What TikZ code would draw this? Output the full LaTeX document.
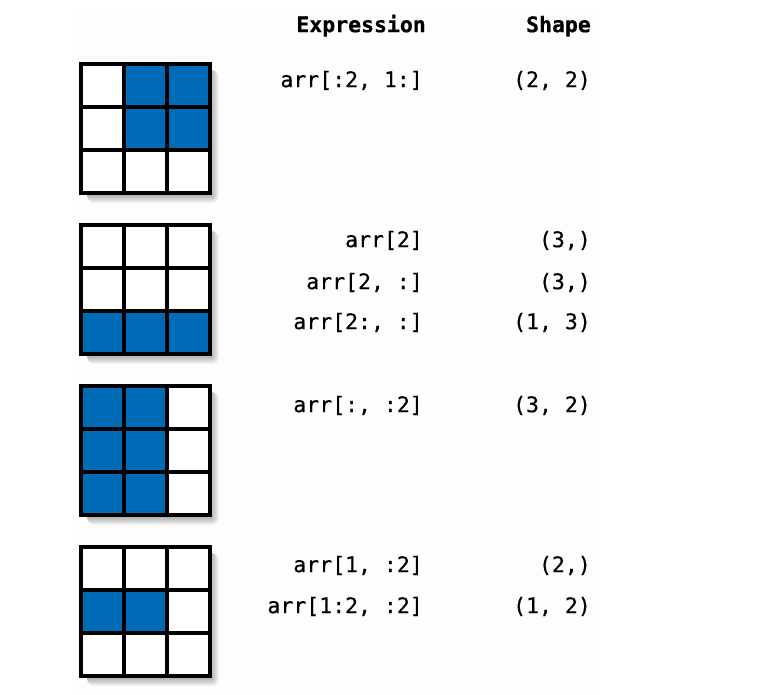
\documentclass[tikz,border=0pt]{standalone}
\usepackage{fontspec}
\setmonofont[FakeBold=0.4]{DejaVu Sans Mono}
\newfontfamily\headfont[FakeBold=0.6]{DejaVu Sans Mono Bold}
\definecolor{cellblue}{RGB}{0,108,183}
\definecolor{panelbg}{RGB}{253,253,253}
\tikzset{
  cell/.style={draw=black, line width=3.5pt, minimum size=43pt, inner sep=0pt, fill=white},
  on/.style={fill=cellblue},
  expr/.style={font=\ttfamily\fontsize{21.5}{24}\selectfont, inner sep=0pt, anchor=mid east},
  head/.style={font=\headfont\fontsize{21.5}{24}\selectfont, inner sep=0pt, anchor=mid east},
}
\newcommand\shadowat[2]{%
  \foreach \k in {0,...,7}{%
    \fill[black, opacity=0.04, rounded corners=\k pt] (#1+6, #2+6) rectangle (#1+131+\k, #2+132+\k);
  }}
\begin{document}
\begin{tikzpicture}[x=1pt,y=-1pt]
\useasboundingbox (0,0) rectangle (768,694);
\fill[panelbg] (72,10) rectangle (593,694);
% shadows
\shadowat{81}{64}
\shadowat{81}{225}
\shadowat{81}{386}
\shadowat{81}{547}
% grid A: arr[:2,1:]
\foreach \r in {0,1,2}{\foreach \c in {0,1,2}{
  \pgfmathtruncatemacro\isOn{(\r<2 && \c>0) ? 1 : 0}
  \ifnum\isOn=1
    \node[cell,on] (a-\r-\c) at (102.5+43*\c, 85.5+43*\r) {};
  \else
    \node[cell] (a-\r-\c) at (102.5+43*\c, 85.5+43*\r) {};
  \fi}}
% grid B: arr[2]
\foreach \r in {0,1,2}{\foreach \c in {0,1,2}{
  \pgfmathtruncatemacro\isOn{(\r==2) ? 1 : 0}
  \ifnum\isOn=1
    \node[cell,on] (b-\r-\c) at (102.5+43*\c, 246.5+43*\r) {};
  \else
    \node[cell] (b-\r-\c) at (102.5+43*\c, 246.5+43*\r) {};
  \fi}}
% grid C: arr[:, :2]
\foreach \r in {0,1,2}{\foreach \c in {0,1,2}{
  \pgfmathtruncatemacro\isOn{(\c<2) ? 1 : 0}
  \ifnum\isOn=1
    \node[cell,on] (c-\r-\c) at (102.5+43*\c, 407.5+43*\r) {};
  \else
    \node[cell] (c-\r-\c) at (102.5+43*\c, 407.5+43*\r) {};
  \fi}}
% grid D: arr[1, :2]
\foreach \r in {0,1,2}{\foreach \c in {0,1,2}{
  \pgfmathtruncatemacro\isOn{(\r==1 && \c<2) ? 1 : 0}
  \ifnum\isOn=1
    \node[cell,on] (d-\r-\c) at (102.5+43*\c, 568.5+43*\r) {};
  \else
    \node[cell] (d-\r-\c) at (102.5+43*\c, 568.5+43*\r) {};
  \fi}}
% headers
\node[head] (hexpr) at (426,30) {Expression};
\node[head] (hshape) at (591,30) {Shape};
% expressions
\node[expr] (e1) at (423,85) {arr[:2, 1:]};
\node[expr] (s1) at (591,85) {(2, 2)};
\node[expr] (e2) at (423,245) {arr[2]};
\node[expr] (s2) at (591,245) {(3,)};
\node[expr] (e3) at (423,287) {arr[2, :]};
\node[expr] (s3) at (591,287) {(3,)};
\node[expr] (e4) at (423,327) {arr[2:, :]};
\node[expr] (s4) at (591,327) {(1, 3)};
\node[expr] (e5) at (423,410) {arr[:, :2]};
\node[expr] (s5) at (591,410) {(3, 2)};
\node[expr] (e6) at (423,570) {arr[1, :2]};
\node[expr] (s6) at (591,570) {(2,)};
\node[expr] (e7) at (423,611) {arr[1:2, :2]};
\node[expr] (s7) at (591,611) {(1, 2)};
\end{tikzpicture}
\end{document}
